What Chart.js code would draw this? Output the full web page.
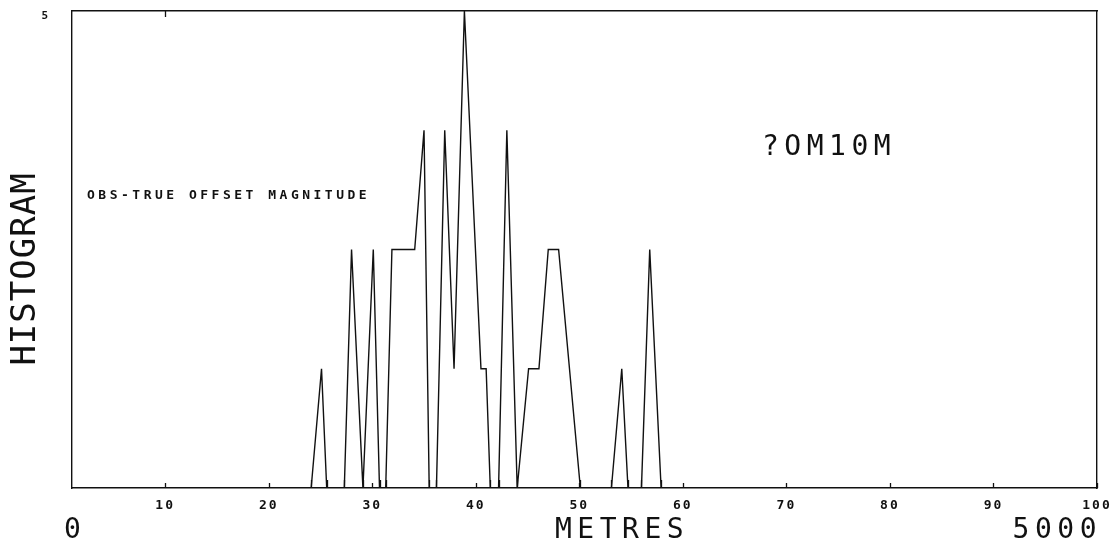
<!DOCTYPE html>
<html>
<head>
<meta charset="utf-8">
<title>Histogram - obs-true offset magnitude</title>
<script src="https://cdn.jsdelivr.net/npm/chart.js@4/dist/chart.umd.min.js"></script>
<style>
  html, body { margin: 0; padding: 0; background: #fff; }
  #wrap { width: 1119px; height: 548px; position: relative; }
</style>
</head>
<body>
<div id="wrap"><canvas id="histo"></canvas></div>
<script>
'use strict';

// bin positions (0..100 = 0..5000 m) and histogram level at each vertex
var binX   = [1, 24.1, 25.1, 25.6, 27.3, 28.0, 29.1, 30.1, 30.7, 31.3,
              31.9, 34.1, 35.0, 35.5, 36.2, 37.0, 37.9, 38.9, 40.5, 41.0,
              41.4, 42.2, 43.0, 44.0, 45.1, 46.1, 47.0, 48.0, 50.1, 53.1,
              54.1, 54.7, 56.0, 56.8, 57.9, 100];
var counts = [1, 1, 2, 1, 1, 3, 1, 3, 1, 1,
              3, 3, 4, 1, 1, 4, 2, 5, 2, 2,
              1, 1, 4, 1, 2, 2, 3, 3, 1, 1,
              2, 1, 1, 3, 1, 1];
var xTicks = [10, 20, 30, 40, 50, 60, 70, 80, 90, 100];
var yTicks = [5];
var rangeStart = '0';
var rangeEnd = '5000';

var MONO = '"DejaVu Sans Mono", "Liberation Mono", monospace';
var INK = '#111';

var points = binX.map(function(x, i) { return { x: x, y: counts[i] }; });
// small inward marks wherever the trace drops to the baseline
var baseMarks = binX.filter(function(x, i) {
    return counts[i] === 1 && i > 0 && i < binX.length - 1;
});

var tickMarks = {
    id: 'tickMarks',
    beforeDraw: function(chart) {
        var ctx = chart.ctx;
        ctx.save();
        ctx.fillStyle = '#fff';
        ctx.fillRect(0, 0, chart.width, chart.height);
        ctx.restore();
        ctx.letterSpacing = '2px';
    },
    afterDatasetsDraw: function(chart) {
        var ctx = chart.ctx, a = chart.chartArea, xs = chart.scales.x;
        ctx.save();
        ctx.strokeStyle = INK;
        ctx.lineWidth = 1.3;
        ctx.beginPath();
        xTicks.forEach(function(v) {
            var px = Math.round(xs.getPixelForValue(v)) + 0.5;
            ctx.moveTo(px, a.bottom);
            ctx.lineTo(px, a.bottom - 5);
        });
        baseMarks.forEach(function(v) {
            var px = Math.round(xs.getPixelForValue(v)) + 0.5;
            ctx.moveTo(px, a.bottom);
            ctx.lineTo(px, a.bottom - 8);
        });
        var tp = Math.round(xs.getPixelForValue(xTicks[0])) + 0.5;
        ctx.moveTo(tp, a.top);
        ctx.lineTo(tp, a.top + 6);
        ctx.stroke();
        ctx.restore();
    }
};

var plotText = {
    id: 'plotText',
    afterDraw: function(chart) {
        var ctx = chart.ctx, a = chart.chartArea, ys = chart.scales.y;
        ctx.save();
        ctx.fillStyle = INK;
        ctx.textBaseline = 'middle';

        // y tick value(s), sitting just under the tick position
        ctx.font = 'bold 11px ' + MONO;
        ctx.letterSpacing = '0px';
        ctx.textAlign = 'right';
        yTicks.forEach(function(v) {
            ctx.fillText(String(v), a.left - 24, ys.getPixelForValue(v) + 5);
        });

        // big labels
        ctx.font = '28px ' + MONO;
        ctx.letterSpacing = '5.5px';
        ctx.textAlign = 'left';
        ctx.fillText(rangeStart, a.left - 8, 531);
        ctx.fillText('METRES', 555, 531);
        ctx.fillText('?OM10M', 762, 148);
        ctx.textAlign = 'right';
        ctx.fillText(rangeEnd, a.right + 5, 531);

        // in-plot caption
        ctx.font = 'bold 13px ' + MONO;
        ctx.letterSpacing = '3.5px';
        ctx.textAlign = 'left';
        ctx.fillText('OBS-TRUE OFFSET MAGNITUDE', 87, 196);

        // vertical axis name
        ctx.translate(26, 269);
        ctx.rotate(-Math.PI / 2);
        ctx.font = '34px ' + MONO;
        ctx.letterSpacing = '1px';
        ctx.textAlign = 'center';
        ctx.fillText('HISTOGRAM', 0, 0);
        ctx.restore();
    }
};

var ctx = document.getElementById('histo').getContext('2d');
window.histoChart = new Chart(ctx, {
    type: 'line',
    data: {
        datasets: [{
            label: 'histogram',
            data: points,
            borderColor: INK,
            borderWidth: 1.4,
            pointRadius: 0,
            tension: 0,
            fill: false
        }]
    },
    options: {
        responsive: true,
        maintainAspectRatio: false,
        animation: false,
        events: [],
        layout: { padding: { top: 11, right: 22, left: 0, bottom: 0 } },
        plugins: {
            legend: { display: false },
            title: { display: false },
            tooltip: { enabled: false }
        },
        scales: {
            x: {
                type: 'linear',
                position: 'bottom',
                min: 1,
                max: 100,
                afterBuildTicks: function(scale) {
                    scale.ticks = xTicks.map(function(v) { return { value: v }; });
                },
                afterFit: function(scale) { scale.height = 60; },
                grid: { drawOnChartArea: false, drawTicks: false },
                border: { display: true, color: INK, width: 1.6 },
                ticks: {
                    color: INK,
                    padding: 10,
                    maxRotation: 0,
                    autoSkip: false,
                    font: { family: MONO, size: 13, weight: 'bold' }
                }
            },
            xTop: {
                type: 'linear',
                position: 'top',
                min: 1,
                max: 100,
                afterFit: function(scale) { scale.height = 0; },
                grid: { drawOnChartArea: false, drawTicks: false },
                border: { display: true, color: INK, width: 1.6 },
                ticks: { display: false }
            },
            y: {
                type: 'linear',
                position: 'left',
                min: 1,
                max: 5,
                afterFit: function(scale) { scale.width = 72; },
                grid: { drawOnChartArea: false, drawTicks: false },
                border: { display: true, color: INK, width: 1.4, dash: [11, 3] },
                ticks: { display: false }
            },
            yRight: {
                type: 'linear',
                position: 'right',
                min: 1,
                max: 5,
                afterFit: function(scale) { scale.width = 0; },
                grid: { drawOnChartArea: false, drawTicks: false },
                border: { display: true, color: INK, width: 1.4, dash: [9, 4] },
                ticks: { display: false }
            }
        }
    },
    plugins: [tickMarks, plotText]
});
</script>
</body>
</html>
